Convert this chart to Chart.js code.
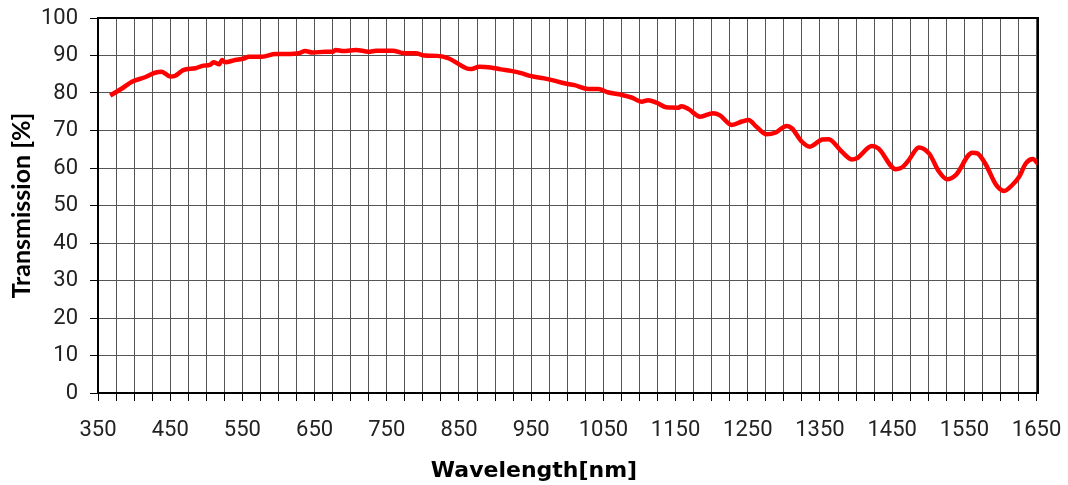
<!DOCTYPE html>
<html>
<head>
<meta charset="utf-8">
<script src="https://cdn.jsdelivr.net/npm/chart.js@4.4.1/dist/chart.umd.min.js"></script>
<style>
html,body{margin:0;padding:0;background:#fff;}
#wrap{width:1068px;height:485px;position:relative;}
</style>
</head>
<body>
<div id="wrap"><canvas id="c"></canvas></div>
<script>
const wavelength = [367,383,397,415,429,438,450,457,468,485,
  496,505,510,518,522,526,540,552,559,577,
  596,612,628,637,647,665,675,679,690,707,
  725,735,758,774,790,802,820,836,848,860,
  867,878,894,908,922,936,950,968,982,996,
  1010,1029,1043,1056,1075,1089,1103,1112,1124,1137,
  1154,1158,1168,1184,1202,1211,1228,1242,1251,1262,
  1276,1288,1304,1311,1325,1336,1353,1362,1380,1394,
  1401,1422,1431,1455,1464,1473,1487,1501,1515,1526,
  1538,1561,1568,1580,1594,1605,1617,1626,1635,1645,
  1652];
const transmission = [79.3,81.2,83.0,84.2,85.4,85.7,84.4,84.6,86.1,86.6,
  87.3,87.5,88.2,87.7,88.8,88.2,88.8,89.2,89.7,89.7,
  90.4,90.4,90.6,91.2,90.8,91.0,91.0,91.5,91.2,91.5,
  91.0,91.3,91.3,90.6,90.6,90.0,89.9,89.2,87.9,86.6,
  86.4,87.0,86.8,86.3,85.9,85.3,84.5,83.9,83.3,82.6,
  82.1,81.1,81.1,80.2,79.5,78.8,77.7,78.1,77.4,76.2,
  76.1,76.5,75.7,73.7,74.6,74.1,71.5,72.4,72.8,71.0,
  69.0,69.4,71.2,70.6,67.0,65.7,67.6,67.7,64.4,62.3,
  62.6,65.9,65.2,59.7,60.2,62.1,65.5,63.9,59.0,57.0,
  58.1,64.1,63.9,60.8,55.5,53.9,55.6,57.7,61.2,62.4,
  61.1];
const xGridValues = [];
for (let v = 350; v <= 1650; v += 25) xGridValues.push(v);
const xLabelValues = [350,450,550,650,750,850,950,1050,1150,1250,1350,1450,1550,1650];
const yTickValues = [0,10,20,30,40,50,60,70,80,90,100];

const points = wavelength.map((w, i) => ({x: w, y: transmission[i]}));

const frame = {
  id: 'frame',
  afterDatasetsDraw(chart) {
    const {ctx, chartArea: a} = chart;
    ctx.save();
    ctx.strokeStyle = '#000';
    ctx.lineWidth = 2;
    ctx.strokeRect(a.left, a.top, a.right - a.left, a.bottom - a.top);
    ctx.restore();
  }
};

function build() {
  new Chart(document.getElementById('c'), {
    type: 'line',
    data: {
      datasets: [{
        data: points,
        borderColor: '#ff0000',
        borderWidth: 4.5,
        pointRadius: 0,
        cubicInterpolationMode: 'monotone',
        fill: false
      }]
    },
    options: {
      responsive: true,
      maintainAspectRatio: false,
      animation: false,
      layout: {padding: {left: 0, top: 18, right: 0, bottom: 0}},
      plugins: {
        legend: {display: false},
        tooltip: {enabled: false},
        title: {
          display: true,
          position: 'bottom',
          text: 'Wavelength[nm]',
          color: '#000',
          font: {family: "'DejaVu Sans'", size: 22, weight: 'bold', lineHeight: 1.2},
          padding: {top: 0, bottom: 1}
        }
      },
      scales: {
        x: {
          type: 'linear',
          min: 350,
          max: 1652,
          afterBuildTicks: s => { s.ticks = xGridValues.map(v => ({value: v})); },
          afterFit: s => { s.height = 64.6; s.paddingLeft = 0; s.paddingRight = 30; },
          ticks: {
            autoSkip: false,
            maxRotation: 0,
            minRotation: 0,
            padding: 16,
            color: '#222',
            font: {family: "Roboto", size: 22},
            callback: v => xLabelValues.includes(v) ? String(v) : ''
          },
          grid: {color: '#555', lineWidth: 1, tickColor: '#000', tickLength: 8},
          border: {color: '#000', width: 2}
        },
        y: {
          min: 0,
          max: 100,
          afterBuildTicks: s => { s.ticks = yTickValues.map(v => ({value: v})); },
          afterFit: s => { s.width = 98; s.paddingTop = 0; s.paddingBottom = 0; },
          ticks: {
            padding: 12,
            color: '#222',
            font: {family: "Roboto", size: 22}
          },
          grid: {color: '#555', lineWidth: 1, tickColor: '#000', tickLength: 8},
          border: {color: '#000', width: 2},
          title: {
            display: true,
            text: 'Transmission [%]',
            color: '#000',
            font: {family: "Lato", size: 25, weight: 'bold', lineHeight: 1.2},
            padding: {top: 7, bottom: 0}
          }
        }
      }
    },
    plugins: [frame]
  });
}

Promise.all([
  document.fonts.load("22px Roboto"),
  document.fonts.load("bold 25px Lato"),
  document.fonts.load("bold 22px 'DejaVu Sans'")
]).then(build, build);
</script>
</body>
</html>
